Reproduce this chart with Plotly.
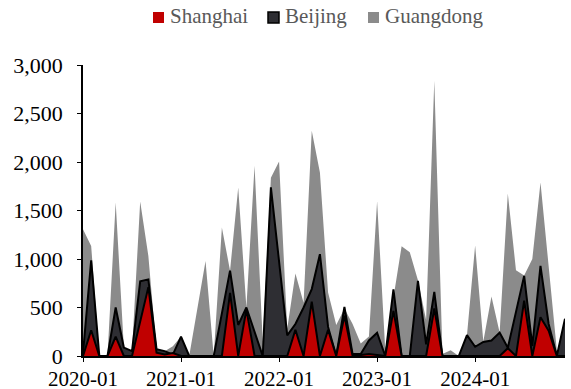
import plotly.graph_objects as go

months = list(range(60))
tick_pos = [0, 12, 24, 36, 48]
tick_labels = ["2020-01", "2021-01", "2022-01", "2023-01", "2024-01"]
series_names = ["Shanghai", "Beijing", "Guangdong"]

shanghai = [0, 265, 0, 0, 200, 0, 0, 350, 710, 35,
            15, 30, 0, 0, 0, 0, 0, 0, 650, 0,
            480, 0, 0, 0, 0, 0, 270, 0, 560, 0,
            270, 0, 415, 0, 10, 20, 10, 0, 465, 0,
            0, 0, 0, 490, 0, 0, 0, 0, 0, 0,
            0, 0, 80, 0, 570, 0, 400, 260, 0, 0]

beijing = [30, 985, 0, 0, 500, 87, 50, 770, 790, 70,
           50, 15, 200, 0, 0, 0, 0, 440, 880, 320,
           500, 250, 0, 1738, 975, 213, 330, 500, 690, 1050,
           300, 0, 505, 20, 20, 160, 240, 0, 688, 0,
           0, 774, 120, 660, 0, 0, 0, 215, 95, 145,
           160, 241, 85, 455, 826, 103, 929, 330, 0, 385]

guangdong = [1307, 1135, 0, 0, 1583, 90, 50, 1593, 1032, 65,
             50, 100, 200, 0, 490, 980, 0, 1325, 880, 1738,
             500, 1961, 150, 1838, 2005, 280, 850, 550, 2322, 1893,
             654, 320, 490, 330, 130, 200, 1595, 60, 600, 1132,
             1070, 780, 370, 2838, 20, 60, 0, 215, 1140, 150,
             613, 241, 1675, 885, 830, 1000, 1789, 925, 60, 0]

C_SH = "#C00000"
C_BJ = "#2E2E33"
C_GD = "#8B8B8B"
FONT = "Liberation Serif"

W, H = 571, 389
ML, MR, MT, MB = 83, 6, 65, 33
PW, PH = W - ML - MR, H - MT - MB

def px_x(p):
    return (p - ML) / PW

def px_y(p):
    return (H - MB - p) / PH

fig = go.Figure()
fig.add_trace(go.Scatter(x=months, y=guangdong, mode="lines", fill="tozeroy", name=series_names[2],
                         line=dict(width=0, color=C_GD), fillcolor=C_GD,
                         showlegend=False, hoverinfo="skip"))
fig.add_trace(go.Scatter(x=months, y=beijing, mode="lines", fill="tozeroy", name=series_names[1],
                         line=dict(width=2, color="#000000"), fillcolor=C_BJ,
                         showlegend=False, hoverinfo="skip"))
fig.add_trace(go.Scatter(x=months, y=shanghai, mode="lines", fill="tozeroy", name=series_names[0],
                         line=dict(width=2, color="#000000"), fillcolor=C_SH,
                         showlegend=False, hoverinfo="skip"))

# custom legend (small squares + text)
legend_items = [
    (series_names[0], C_SH, None, 153, 168),
    (series_names[1], C_BJ, "#000000", 268, 283),
    (series_names[2], C_GD, None, 368, 383),
]
shapes = []
annotations = []
for name, col, border, sx, tx in legend_items:
    shapes.append(dict(type="rect", xref="paper", yref="paper",
                       x0=px_x(sx), x1=px_x(sx + 11), y0=px_y(23), y1=px_y(12),
                       fillcolor=col,
                       line=dict(width=1.5 if border else 0, color=border or col)))
    annotations.append(dict(text=name, xref="paper", yref="paper", x=px_x(tx), y=px_y(16),
                            xanchor="left", yanchor="middle", showarrow=False,
                            font=dict(family=FONT, size=21, color="#595959")))

fig.update_layout(
    width=W, height=H,
    margin=dict(l=ML, r=MR, t=MT, b=MB, autoexpand=False),
    plot_bgcolor="white", paper_bgcolor="white",
    font=dict(family=FONT, size=22, color="#000000"),
    showlegend=False,
    shapes=shapes, annotations=annotations,
)
fig.update_xaxes(range=[0, 59], tickvals=tick_pos, ticktext=tick_labels,
                 showgrid=False, zeroline=False, showline=True, linecolor="#000000",
                 linewidth=1.5, ticks="outside", ticklen=4, tickcolor="#000000",
                 automargin=False, ticklabelstandoff=-1,
                 tickfont=dict(family=FONT, size=21, color="#000000"))
fig.update_yaxes(range=[0, 3000], tickvals=[0, 500, 1000, 1500, 2000, 2500, 3000],
                 tickformat=",d", showgrid=False, zeroline=False, showline=True,
                 linecolor="#000000", linewidth=1.5, ticks="outside", ticklen=4,
                 tickcolor="#000000", automargin=False, ticklabelstandoff=10,
                 tickfont=dict(family=FONT, size=22, color="#000000"))

fig.write_html("out.html")
